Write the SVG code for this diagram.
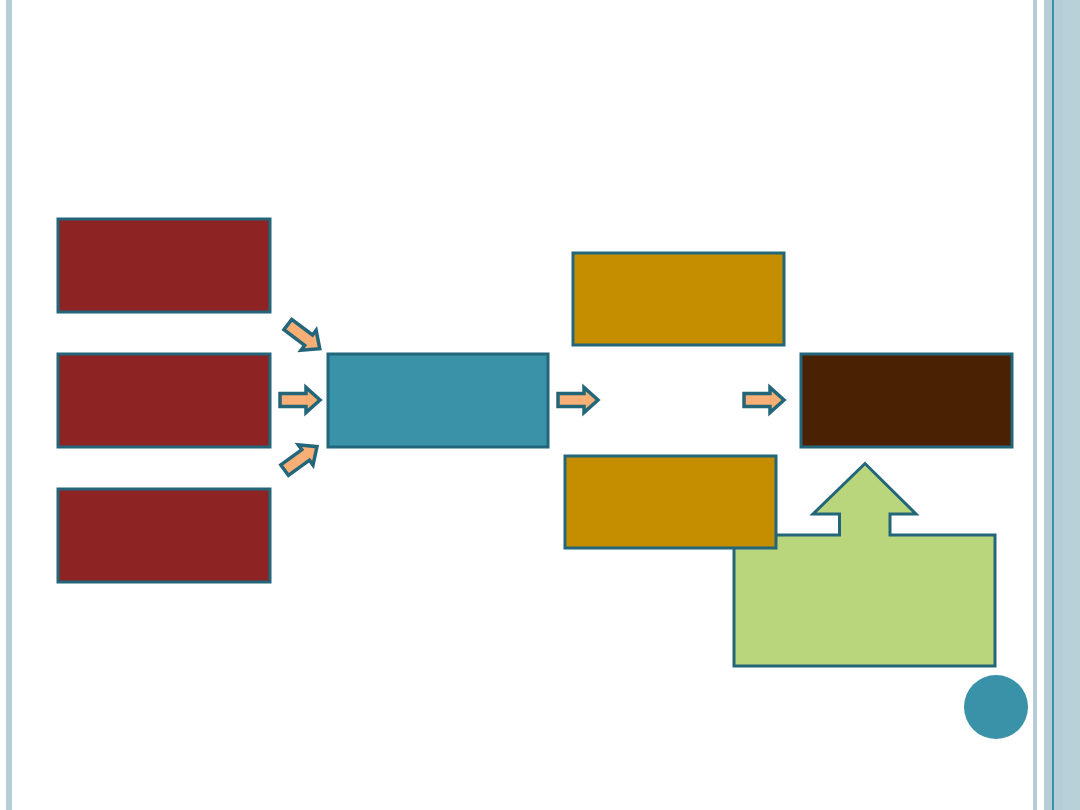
<svg xmlns="http://www.w3.org/2000/svg" width="1080" height="810" viewBox="0 0 1080 810">
<style>
.box{stroke:#23667A;stroke-width:3}
.red{fill:#8E2323}
.teal{fill:#3A92A8}
.gold{fill:#C48E00}
.brown{fill:#4A2103}
.arr{fill:#F8AF76;stroke:#23667A;stroke-width:3.5;stroke-linejoin:miter}
</style>
<defs>
<path id="barrow" d="M-19,-6.5 H7 V-12.5 L21,0 L7,12.5 V6.5 H-19 Z"/>
</defs>
<rect width="1080" height="810" fill="#fff"/>
<g id="frame">
<rect x="6" y="0" width="6" height="810" fill="#B4CDD6"/>
<rect x="1033" y="0" width="4" height="810" fill="#B4CDD6"/>
<rect x="1044" y="0" width="36" height="810" fill="#B4CDD6"/>
<rect x="1052" y="0" width="2" height="810" fill="#3A92A8"/>
<rect x="1063" y="0" width="17" height="810" fill="#B8D0D8"/>
</g>
<g id="red1"><rect class="box red" x="58" y="219" width="212" height="93"/></g>
<g id="red2"><rect class="box red" x="58" y="354" width="212" height="93"/></g>
<g id="red3"><rect class="box red" x="58" y="489" width="212" height="93"/></g>
<g id="center"><rect class="box teal" x="328" y="354" width="220" height="93"/></g>
<g id="callout"><path class="box" fill="#BAD67D" d="M734,535 H839.5 V514 H813 L865,463.5 L916,514 H890 V535 H995 V666 H734 Z"/></g>
<g id="gold1"><rect class="box gold" x="573" y="253" width="211" height="92"/></g>
<g id="gold2"><rect class="box gold" x="565" y="456" width="211" height="92"/></g>
<g id="result"><rect class="box brown" x="801" y="354" width="211" height="93"/></g>
<g id="connectors">
<use href="#barrow" class="arr" transform="translate(303,336) rotate(37)"/>
<use href="#barrow" class="arr" transform="translate(299,400)"/>
<use href="#barrow" class="arr" transform="translate(300,459) rotate(-36)"/>
<use href="#barrow" class="arr" transform="translate(577,400)"/>
<use href="#barrow" class="arr" transform="translate(763,400)"/>
</g>
<g id="dot"><circle cx="996" cy="707" r="32" fill="#3A92A8"/></g>
</svg>
